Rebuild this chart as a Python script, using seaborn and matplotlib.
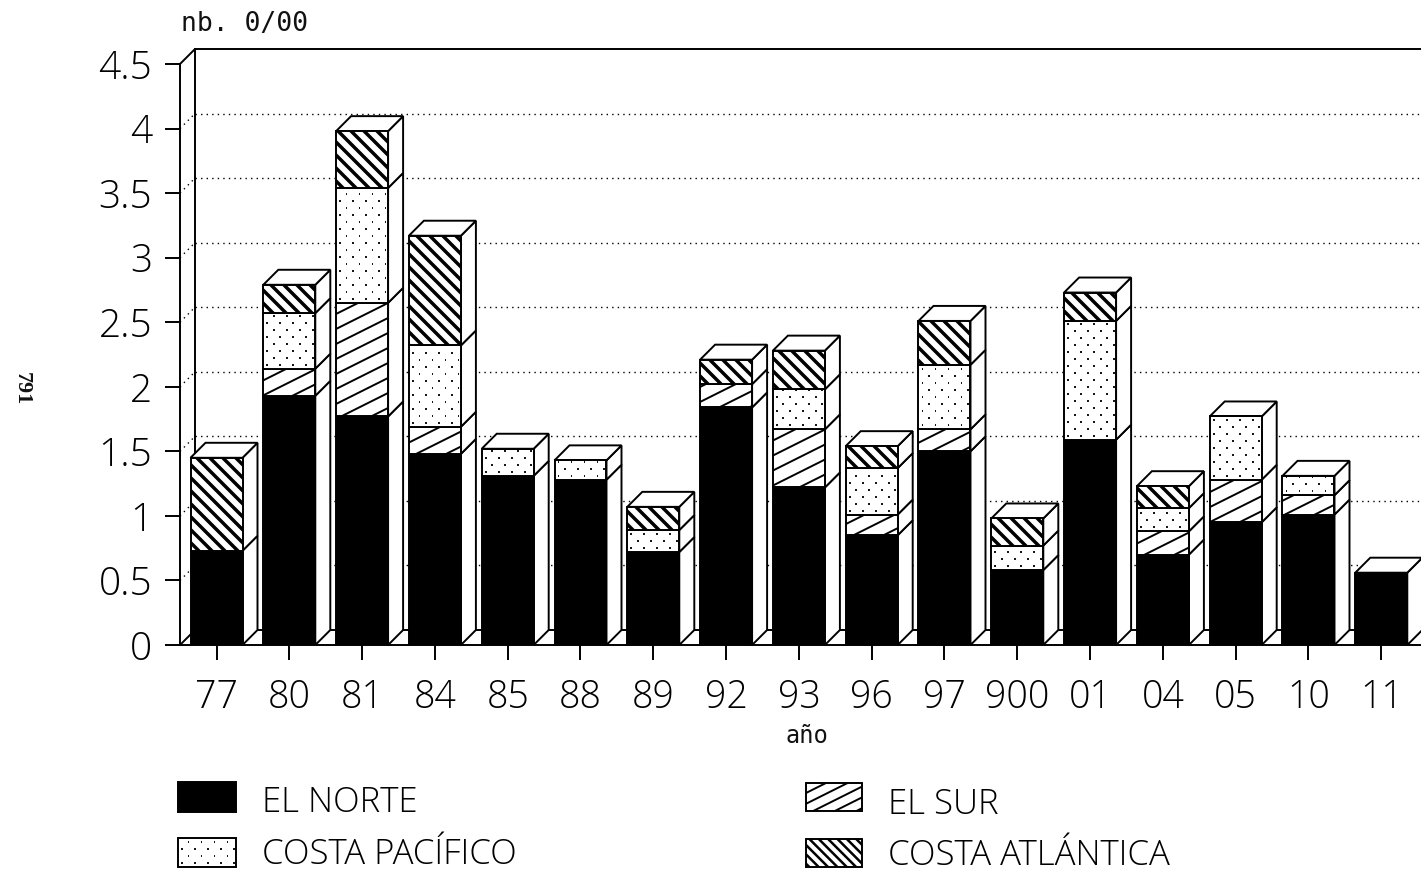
import numpy as np
import pandas as pd
import seaborn as sns
import matplotlib.pyplot as plt
from matplotlib.collections import LineCollection
from matplotlib.patches import Polygon, Rectangle
from matplotlib.transforms import IdentityTransform

sns.set_theme(style="white")
plt.rcParams['font.family'] = ['Open Sans', 'DejaVu Sans']
plt.rcParams['font.weight'] = 'light'

# data
anios = ["77", "80", "81", "84", "85", "88", "89", "92", "93", "96", "97", "900", "01", "04", "05", "10", "11"]
norte = [0.73, 1.93, 1.77, 1.48, 1.31, 1.28, 0.72, 1.84, 1.22, 0.85, 1.50, 0.58, 1.59, 0.70, 0.95, 1.01, 0.56]
sur = [0, 0.21, 0.88, 0.21, 0, 0, 0, 0.18, 0.45, 0.16, 0.17, 0, 0, 0.18, 0.33, 0.15, 0]
pacifico = [0, 0.43, 0.89, 0.63, 0.21, 0.15, 0.17, 0, 0.31, 0.36, 0.50, 0.19, 0.92, 0.18, 0.49, 0.15, 0]
atlantico = [0.72, 0.22, 0.44, 0.85, 0, 0, 0.18, 0.19, 0.30, 0.17, 0.34, 0.21, 0.22, 0.17, 0, 0, 0]
nombres = ["EL NORTE", "EL SUR", "COSTA PACÍFICO", "COSTA ATLÁNTICA"]
yticks = [0, 0.5, 1, 1.5, 2, 2.5, 3, 3.5, 4, 4.5]
ylabels = ["0", "0.5", "1", "1.5", "2", "2.5", "3", "3.5", "4", "4.5"]

W, H = 1421, 872
LW = 1.4
df = pd.DataFrame({"anio": anios, "norte": norte, "sur": sur, "pacifico": pacifico, "atlantico": atlantico})
series = ["norte", "sur", "pacifico", "atlantico"]
patrones = ["solido", "sur", "puntos", "atl"]


def rellenar(rect, tipo, destino, escala=1.0):
    # pattern in pixels, clipped to the rectangle
    box = rect.get_window_extent()
    x0, x1, y0, y1 = box.x0, box.x1, box.y0, box.y1
    t = IdentityTransform()
    if tipo == "puntos":
        segs = []
        for i, y in enumerate(np.arange(y0 + 4, y1 - 1, 7)):
            for x in np.arange(x0 + 4 + (i % 2) * 6.5, x1 - 1, 13):
                segs.append([(x - 0.9, y), (x + 0.9, y)])
        lin = LineCollection(segs, colors="black", linewidths=1.3, transform=t, zorder=5)
    elif tipo == "sur":
        paso = 15 * escala
        segs = [[(x0 - 5, c + 0.5 * (x0 - 5)), (x1 + 5, c + 0.5 * (x1 + 5))]
                for c in np.arange(np.floor((y0 - 0.5 * x1) / paso) * paso, y1 - 0.5 * x0 + paso, paso)]
        lin = LineCollection(segs, colors="black", linewidths=1.4, transform=t, zorder=5)
    elif tipo == "atl":
        paso = 13 * escala
        segs = [[(x0 - 5, c - (x0 - 5)), (x1 + 5, c - (x1 + 5))]
                for c in np.arange(np.floor((y0 + x0) / paso) * paso, y1 + x1 + paso, paso)]
        lin = LineCollection(segs, colors="black", linewidths=2.5 * escala, transform=t, zorder=5)
    else:
        return
    destino.add_artist(lin)
    lin.set_clip_path(Rectangle((x0, y0), x1 - x0, y1 - y0, transform=t))


fig = plt.figure(figsize=(W / 100, H / 100), dpi=100, facecolor="white")
ax = fig.add_axes([180 / W, (H - 645) / H, (W - 180) / W, (645 - 64) / H])

# stacked bars, front faces
base = np.zeros(len(anios))
ancho = 52 / 72.8
for s in series:
    sns.barplot(data=df, x="anio", y=s, order=anios, bottom=base, width=ancho, color="black" if s == "norte" else "white",
                saturation=1, edgecolor="black", linewidth=LW, err_kws={"linewidth": 0}, ax=ax, zorder=4)
    base = base + df[s].values

ax.set_xlim(-36.5 / 72.8, (W - 216.5) / 72.8)
ax.set_ylim(0, 4.5)
ax.set_xlabel("")
ax.set_ylabel("")
ax.patch.set_alpha(0)

ddx = 15 / 72.8
ddy = 15 / 129.1
x_izq = ax.get_xlim()[0]
x_der = ax.get_xlim()[1]

# back wall, dotted grid, floor
punteado = (0, (1, 3))
for v in yticks[1:-1]:
    ax.plot([x_izq + ddx, x_der], [v + ddy, v + ddy], color="black", lw=1, ls=punteado, zorder=1, clip_on=False)
    ax.plot([x_izq, x_izq + ddx], [v, v + ddy], color="black", lw=1, ls=punteado, zorder=1, clip_on=False)
ax.plot([x_izq + ddx, x_izq + ddx], [ddy, 4.5 + ddy], color="black", lw=LW, zorder=1, clip_on=False)
ax.plot([x_izq + ddx, x_der], [4.5 + ddy, 4.5 + ddy], color="black", lw=LW, zorder=1, clip_on=False)
ax.plot([x_izq, x_izq + ddx], [4.5, 4.5 + ddy], color="black", lw=LW, zorder=1, clip_on=False)
ax.plot([x_izq + ddx, x_der], [ddy, ddy], color="black", lw=LW, zorder=1, clip_on=False)
ax.plot([x_izq, x_izq + ddx], [0, ddy], color="black", lw=LW, zorder=1, clip_on=False)

# side and top faces of each bar
bars = ax.patches
k = len(anios)
for j in range(len(series)):
    for i in range(k):
        r = bars[j * k + i]
        x1 = r.get_x() + r.get_width()
        y0 = r.get_y()
        y1 = y0 + r.get_height()
        if r.get_height() <= 0:
            continue
        ax.add_patch(Polygon([(x1, y0), (x1 + ddx, y0 + ddy), (x1 + ddx, y1 + ddy), (x1, y1)], closed=True,
                             fc="white", ec="black", lw=LW, zorder=2, clip_on=False))
for i in range(k):
    tope = base[i]
    r = bars[i]
    x0 = r.get_x()
    x1 = x0 + r.get_width()
    ax.add_patch(Polygon([(x0, tope), (x0 + ddx, tope + ddy), (x1 + ddx, tope + ddy), (x1, tope)], closed=True,
                         fc="white", ec="black", lw=LW, zorder=2, clip_on=False))

sns.despine(ax=ax, top=True, right=True)
for lado in ["left", "bottom"]:
    ax.spines[lado].set_color("black")
    ax.spines[lado].set_linewidth(LW)
ax.set_yticks(yticks, ylabels)
ax.set_xticks(range(k), anios)
ax.tick_params(axis="y", length=11, width=LW, color="black", pad=9, labelsize=28, labelcolor="black", left=True)
ax.tick_params(axis="x", length=11, width=LW, color="black", pad=13, labelsize=27, labelcolor="black", bottom=True)

# hatches need the final layout
fig.canvas.draw()
for j, tipo in enumerate(patrones):
    for i in range(k):
        r = bars[j * k + i]
        if r.get_height() > 0:
            rellenar(r, tipo, ax)

# small labels
fig.text(181 / W, (H - 24) / H, "nb. 0/00", fontsize=19, family="DejaVu Sans Mono", weight="normal", color="#111111", va="center", ha="left")
fig.text(807 / W, (H - 736) / H, "año", fontsize=17, family="DejaVu Sans Mono", weight="normal", color="#111111", va="center", ha="center")
fig.text(22 / W, (H - 389) / H, "791", fontsize=16, family="Liberation Serif", weight="bold", color="#111111", va="center", ha="center", rotation=-90)

# legend
ley_x = [178, 806, 178, 806]
ley_y = [782, 783, 838, 839]
ley_w = [58, 56, 58, 56]
ley_h = [30, 28, 29, 28]
txt_x = [262, 888, 262, 888]
txt_y = [812, 814, 864, 865]
for o in range(4):
    rect = Rectangle((ley_x[o], H - ley_y[o] - ley_h[o]), ley_w[o], ley_h[o], transform=IdentityTransform(),
                     fc="black" if o == 0 else "white", ec="black", lw=LW, zorder=3)
    fig.add_artist(rect)
    rellenar(rect, patrones[o], fig, escala=0.72)
    fig.text(txt_x[o] / W, (H - txt_y[o]) / H, nombres[o], fontsize=25, color="black", va="baseline", ha="left")

fig.savefig("out.png", dpi=100)
